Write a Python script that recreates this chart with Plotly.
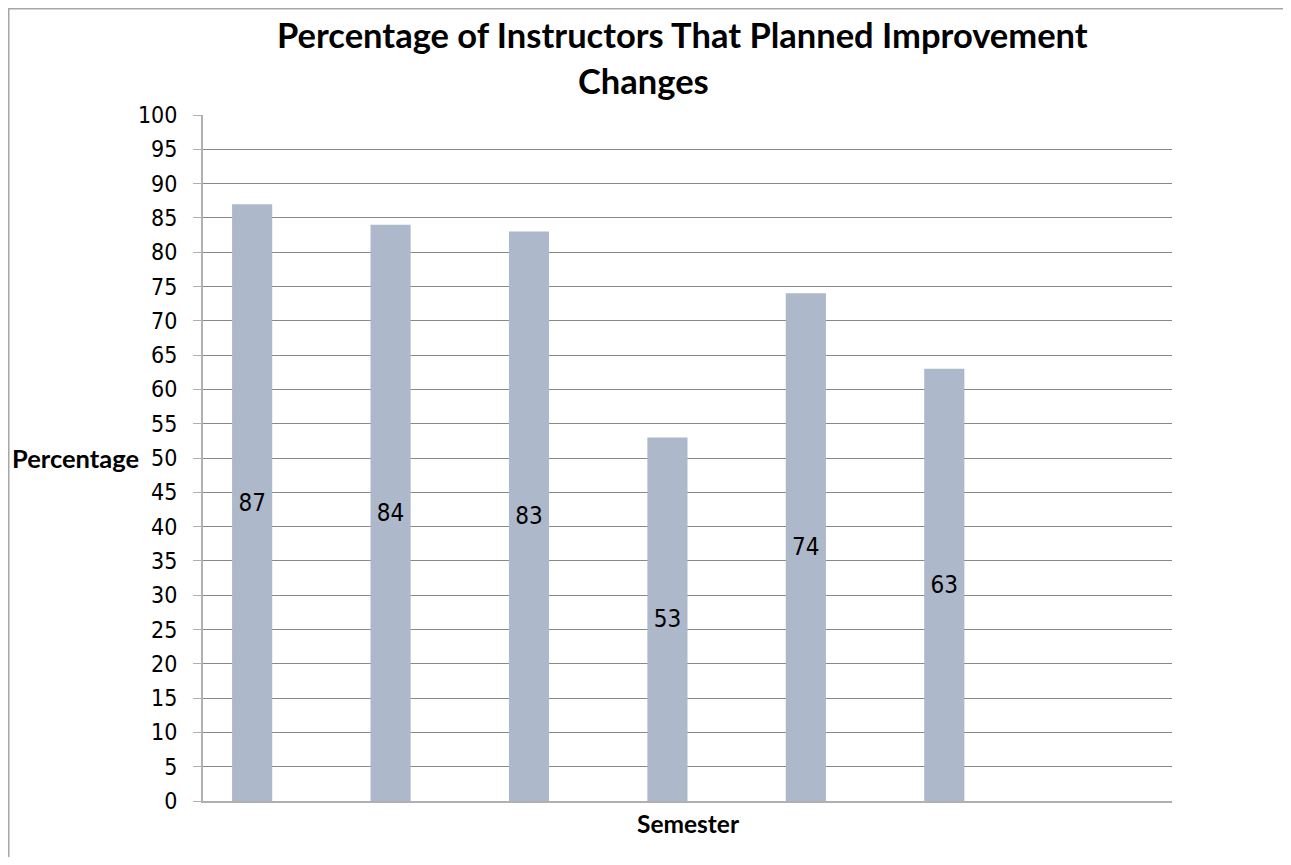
import plotly.graph_objects as go

categories = ["1", "2", "3", "4", "5", "6", "7"]
values = [87, 84, 83, 53, 74, 63, None]
values_series2 = [None, None, None, None, None, None, None]
y_ticks = list(range(0, 101, 5))

# page has an 8px body margin, so figure coords = page coords - 8
OFF = 8
W, H = 1291 - 2 * OFF, 865 - 2 * OFF
L, T = 203 - OFF, 115 - OFF
PW, PH = 969, 686
R, B = W - L - PW, H - T - PH

def fx(px):  # page px -> paper x
    return (px - OFF - L) / PW

def fy(py):  # page px -> paper y
    return (T + PH - (py - OFF)) / PH

FONT = "'DejaVu Sans Condensed', 'Liberation Sans Narrow', sans-serif"
BOLD = "Lato, 'Liberation Sans', sans-serif"

fig = go.Figure()
fig.add_trace(go.Bar(
    x=categories, y=values, name="Series 1",
    marker=dict(color="#adb9ca", line=dict(width=0)),
    text=[str(v) if v is not None else "" for v in values],
    textposition="inside", insidetextanchor="middle",
    textfont=dict(size=24, color="#000000", family=FONT),
    textangle=0, hoverinfo="skip",
))
fig.add_trace(go.Bar(
    x=categories, y=values_series2, name="Series 2",
    marker=dict(color="#8eb4e3", line=dict(width=0)),
    hoverinfo="skip",
))

fig.update_layout(
    width=W, height=H,
    margin=dict(l=L, r=R, t=T, b=B),
    paper_bgcolor="white", plot_bgcolor="white",
    barmode="group", bargap=0.42, bargroupgap=0,
    showlegend=False,
    font=dict(family=FONT, color="#000000"),
    xaxis=dict(
        showticklabels=False, showgrid=False, ticks="",
        showline=True, linecolor="#b0b0b0", linewidth=2,
        range=[-0.5, 6.5], zeroline=False,
    ),
    yaxis=dict(
        range=[0, 100], tickvals=y_ticks, ticktext=[str(v) for v in y_ticks],
        showgrid=True, gridcolor="#888888", gridwidth=1,
        showline=True, linecolor="#b0b0b0", linewidth=2,
        ticks="outside", ticklen=8, tickcolor="#b0b0b0", tickwidth=1,
        tickfont=dict(size=23, family=FONT, color="#000000"),
        ticklabelstandoff=11,
        zeroline=False,
    ),
    annotations=[
        dict(text="<b>Percentage of Instructors That Planned Improvement</b>",
             xref="paper", yref="paper", x=fx(682), y=fy(34),
             xanchor="center", yanchor="middle", showarrow=False,
             font=dict(size=34.5, family=BOLD, color="#000000")),
        dict(text="<b>Changes</b>",
             xref="paper", yref="paper", x=fx(643), y=fy(80),
             xanchor="center", yanchor="middle", showarrow=False,
             font=dict(size=34.5, family=BOLD, color="#000000")),
        dict(text="<b>Percentage</b>", xref="paper", yref="y",
             x=fx(141), y=50, xanchor="right", yanchor="middle",
             showarrow=False, font=dict(size=25.5, family=BOLD, color="#000000")),
        dict(text="<b>Semester</b>", xref="paper", yref="paper",
             x=fx(688), y=fy(823), xanchor="center", yanchor="middle",
             showarrow=False, font=dict(size=24.5, family=BOLD, color="#000000")),
    ],
    shapes=[dict(
        type="rect", xref="paper", yref="paper", layer="below",
        x0=fx(OFF + 0.75), x1=fx(1320), y0=fy(900), y1=fy(OFF + 0.75),
        line=dict(color="#a6a6a6", width=1.5), fillcolor="rgba(0,0,0,0)",
    )],
)

fig.write_html("out.html")
